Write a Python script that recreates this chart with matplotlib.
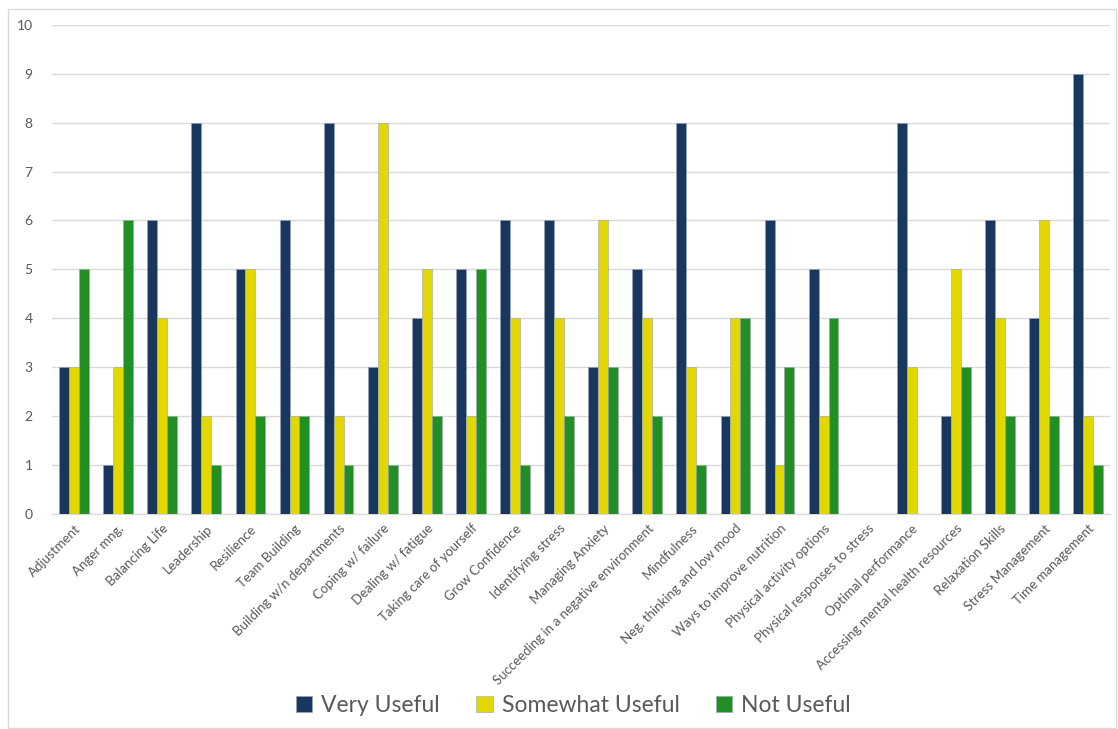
import numpy as np
import matplotlib.pyplot as plt
from matplotlib.patches import Rectangle

topics = [
    'Adjustment', 'Anger mng.', 'Balancing Life', 'Leadership', 'Resilience',
    'Team Building', 'Building w/n departments', 'Coping w/ failure',
    'Dealing w/ fatigue', 'Taking care of yourself', 'Grow Confidence',
    'Identifying stress', 'Managing Anxiety',
    'Succeeding in a negative environment', 'Mindfulness',
    'Neg. thinking and low mood', 'Ways to improve nutrition',
    'Physical activity options', 'Physical responses to stress',
    'Optimal performance', 'Accessing mental health resources',
    'Relaxation Skills', 'Stress Management', 'Time management',
]
very_useful = [3, 1, 6, 8, 5, 6, 8, 3, 4, 5, 6, 6, 3, 5, 8, 2, 6, 5, 0, 8, 2, 6, 4, 9]
somewhat_useful = [3, 3, 4, 2, 5, 2, 2, 8, 5, 2, 4, 4, 6, 4, 3, 4, 1, 2, 0, 3, 5, 4, 6, 2]
not_useful = [5, 6, 2, 1, 2, 2, 1, 1, 2, 5, 1, 2, 3, 2, 1, 4, 3, 4, 0, 0, 3, 2, 2, 1]

series = [
    ('Very Useful', very_useful, '#17375E'),
    ('Somewhat Useful', somewhat_useful, '#E3D700'),
    ('Not Useful', not_useful, '#228F24'),
]

plt.rcParams['font.family'] = ['Lato', 'DejaVu Sans']

fig = plt.figure(figsize=(11.18, 7.29), dpi=100)
ax = fig.add_axes([0.0465, 0.295, 0.9465, 0.671])

x = np.arange(len(topics))
w = 0.225
for i, (name, vals, col) in enumerate(series):
    ax.bar(x + (i - 1) * w, vals, w, color=col, label=name,
           edgecolor='#9aa5b5', linewidth=0.4, zorder=3)

ax.set_xlim(-0.5, len(topics) - 0.5)
ax.set_ylim(0, 10)
ax.set_yticks(range(0, 11))
ax.tick_params(axis='y', length=0, labelsize=10, labelcolor='#595959', pad=14)
ax.set_xticks(x)
ax.set_xticklabels(topics, rotation=45, ha='right', rotation_mode='anchor',
                   fontsize=9.5, color='#595959')
ax.tick_params(axis='x', length=0, pad=6)
ax.grid(axis='y', color='#D9D9D9', linewidth=1, zorder=0)
for s in ['top', 'right', 'left']:
    ax.spines[s].set_visible(False)
ax.spines['bottom'].set_color('#D9D9D9')

fig.legend(loc='center', bbox_to_anchor=(0.513, 0.032), ncol=3, frameon=False,
           fontsize=16.5, handlelength=0.7, handleheight=0.7, handletextpad=0.4,
           columnspacing=1.6, labelcolor='#595959')

fig.patches.append(Rectangle((0.007, 0.002), 0.991, 0.985, transform=fig.transFigure,
                             fill=False, edgecolor='#D9D9D9', linewidth=1))

fig.savefig('out.png', dpi=100)
